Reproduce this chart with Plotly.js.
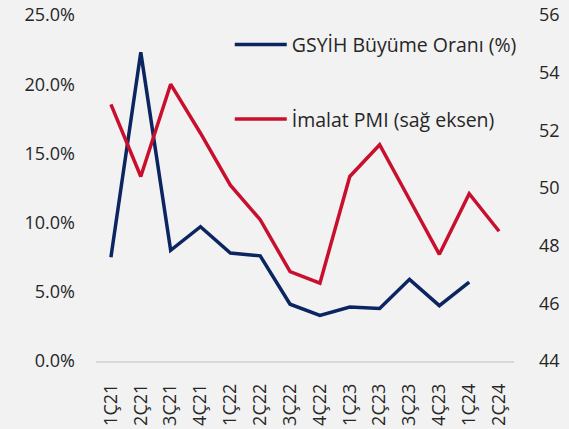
<!DOCTYPE html>
<html><head><meta charset="utf-8">
<script src="https://cdn.plot.ly/plotly-3.0.1.min.js"></script>
<style>html,body{margin:0;padding:0;background:#f2f2f2;}#chart{width:569px;height:429px;}</style>
</head><body><div id="chart"></div>
<script>
const categories = ["1Ç21","2Ç21","3Ç21","4Ç21","1Ç22","2Ç22","3Ç22","4Ç22","1Ç23","2Ç23","3Ç23","4Ç23","1Ç24","2Ç24"];
const gdpGrowth = [7.5, 22.3, 8.0, 9.7, 7.8, 7.6, 4.1, 3.3, 3.9, 3.8, 5.9, 4.0, 5.7, null];
const pmi = [52.9, 50.4, 53.6, 51.9, 50.1, 48.9, 47.1, 46.7, 50.4, 51.5, 49.6, 47.7, 49.8, 48.5];
const leftTicks = [0, 5, 10, 15, 20, 25];
const rightTicks = [44, 46, 48, 50, 52, 54, 56];

const font = {family: "Open Sans, Noto Sans, sans-serif", size: 18, color: "#262626"};
const legendFont = {family: "Open Sans, Noto Sans, sans-serif", size: 19.5, color: "#262626"};
const traces = [
  {x: categories, y: gdpGrowth, type: "scatter", mode: "lines", name: "GSYİH Büyüme Oranı (%)",
   line: {color: "#0b2560", width: 3.5}, yaxis: "y", legendgroup: "a"},
  {x: categories, y: pmi, type: "scatter", mode: "lines", name: "İmalat PMI (sağ eksen)",
   line: {color: "#c8102e", width: 3.5}, yaxis: "y2", legendgroup: "b"}
];
const layout = {
  width: 569, height: 429,
  paper_bgcolor: "#f2f2f2", plot_bgcolor: "#f2f2f2",
  margin: {l: 96, r: 55, t: 15, b: 68},
  font: font,
  showlegend: true,
  legend: {x: 0.32, y: 0.97, xanchor: "left", yanchor: "top", bgcolor: "rgba(0,0,0,0)",
           font: legendFont, tracegroupgap: 46, traceorder: "grouped", itemwidth: 52},
  xaxis: {type: "category", range: [-0.5, 13.5], tickangle: -90, showgrid: false, zeroline: false,
          showline: true, linecolor: "#d9d9d9", linewidth: 1.5, ticks: "", ticklabelstandoff: 14,
          tickfont: font, fixedrange: true},
  yaxis: {range: [0, 25], tickvals: leftTicks, ticktext: leftTicks.map(v => v.toFixed(1) + "%"),
          showgrid: false, zeroline: false, showline: false, ticks: "", ticklabelstandoff: 20,
          tickfont: font},
  yaxis2: {range: [44, 56], tickvals: rightTicks, overlaying: "y", side: "right",
           showgrid: false, zeroline: false, showline: false, ticks: "", ticklabelstandoff: 24,
           tickfont: font}
};
Plotly.newPlot("chart", traces, layout, {staticPlot: true, displayModeBar: false});
</script></body></html>
